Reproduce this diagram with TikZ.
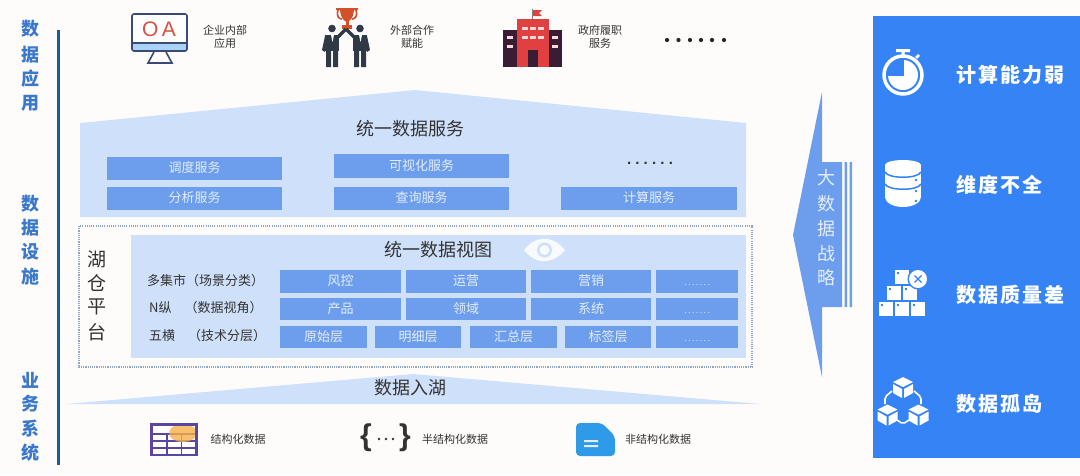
\documentclass[tikz,border=0pt]{standalone}
\usepackage{fontspec}
\setmainfont{Noto Sans CJK SC}
\newfontfamily\lat{Liberation Sans}
\usetikzlibrary{calc}
\definecolor{bgc}{HTML}{FEFCFA}
\definecolor{pale}{HTML}{CFE0FA}
\definecolor{cell}{HTML}{6D9EEE}
\definecolor{side}{HTML}{3683F5}
\definecolor{lbl}{HTML}{3A78CC}
\definecolor{ink}{HTML}{333333}
\definecolor{softw}{HTML}{E4EDFB}
\definecolor{navy}{HTML}{3B4A78}
\definecolor{strip}{HTML}{A9D3F7}
\definecolor{oared}{HTML}{D9503F}
\definecolor{troph}{HTML}{D2502A}
\definecolor{suit}{HTML}{2F3A46}
\definecolor{bdark}{HTML}{3A1D35}
\definecolor{bred}{HTML}{E0403F}
\definecolor{tabl}{HTML}{5B45A0}
\definecolor{docb}{HTML}{2F9BE8}
\definecolor{frm}{HTML}{8FA5C4}
\definecolor{spine}{HTML}{1F5A96}
\definecolor{orng}{HTML}{F5B04A}
\tikzset{
 x=1pt,y=-1pt,
 txt/.style={inner sep=0pt,text=ink,font=\fontsize{11}{13.5}\selectfont,align=center},
 head/.style={inner sep=0pt,text=ink,font=\fontsize{18}{20}\selectfont},
 cellbox/.style={fill=cell,draw=none,inner sep=0pt,text=softw,font=\fontsize{13}{14}\selectfont,anchor=north west,text height=10pt,text depth=2pt},
 rowl/.style={inner sep=0pt,text=ink,font=\fontsize{13}{14}\selectfont,anchor=west},
 sidelab/.style={inner sep=0pt,text=lbl,font=\bfseries\fontsize{18}{20}\selectfont},
 strat/.style={inner sep=0pt,text=softw,font=\fontsize{18}{20}\selectfont},
 prob/.style={inner sep=0pt,text=white,font=\bfseries\fontsize{20}{22}\selectfont},
}
\newcommand{\cbox}[6]{\node[cellbox,minimum width=#4pt-#2pt,minimum height=#5pt-#3pt] (#1) at (#2,#3) {#6};}
\newcommand{\celldots}{{\lat\fontsize{9}{10}\selectfont\addfontfeature{LetterSpace=15}.......}}
\begin{document}
\begin{tikzpicture}
\useasboundingbox (0,0) rectangle (1080,475);
\fill[bgc] (0,0) rectangle (1080,475);
% left
\draw[line width=3pt,color=spine] (58,30) -- (58,465);
\foreach \t/\y [count=\i] in {数/29,据/55,应/79,用/103,数/204,据/228,设/252,施/277,业/380,务/404,系/429,统/453}
  \node[sidelab] (s\i) at (30,\y) {\t};
% top icons: monitor
\fill[white] (131,13) rectangle (188,52);
\fill[strip] (132,43) rectangle (187,51);
\draw[line width=1.6pt,color=navy,rounded corners=2pt] (132,14) rectangle (187,51);
\draw[line width=1.6pt,color=navy] (132,43) -- (187,43) (154,52) -- (148,63) -- (172,63) -- (166,52);
\node[inner sep=0pt,text=oared,font=\lat\fontsize{21}{22}\selectfont] (oa) at (159,29) {O\,A};
\node[txt] (t1) at (225,37) {企业内部\\应用};
% people
\draw[troph,line width=1.6pt] (338,10) .. controls (336,16) and (339,19) .. (342,19) (356,10) .. controls (358,16) and (355,19) .. (352,19);
\fill[troph] (336,8) -- (358,8) -- (358,10) -- (354,10) .. controls (353,19) and (350,21) .. (347,22) .. controls (344,21) and (341,19) .. (340,10) -- (336,10) -- cycle;
\fill[troph] (345.5,21) rectangle (348.5,26);
\fill[troph] (342,25) rectangle (352,29);
\foreach \cx/\dir in {332/1,360/-1}{
 \fill[suit] (\cx,28.5) circle (3.8);
 \fill[suit] (\cx-7,35) -- (\cx+7,35) -- (\cx+7,51) -- (\cx-7,51) -- cycle;
 \fill[suit] (\cx-6,50) rectangle (\cx-1,67) (\cx+1,50) rectangle (\cx+6,67);
 \fill[suit] (\cx-\dir*7,36) -- (\cx-\dir*10,50) -- (\cx-\dir*7,52) -- (\cx-\dir*4,40) -- cycle;
 \draw[line width=3.4pt,color=suit] (\cx+\dir*5,38) -- (\cx+\dir*14,29);
}
\fill[white] (331,35) -- (334,35) -- (332.5,42) -- cycle (359,35) -- (362,35) -- (360.5,42) -- cycle;
\node[txt] (t2) at (412,37) {外部合作\\赋能};
% building
\fill[bdark] (503,30) rectangle (562,67);
\fill[bred] (517,19) rectangle (549,67);
\fill[bdark] (528,50) rectangle (538,67);
\draw[line width=1pt,color=gray] (532.5,19) -- (532.5,9);
\fill[bred] (533,10) -- (542,10) -- (539,13) -- (542,16) -- (533,16) -- cycle;
\foreach \xx in {522,530,538} \foreach \yy in {27,36} \fill[red!15] (\xx,\yy) rectangle +(6,2.6);
\foreach \xx in {507,552} \foreach \yy in {36,45} \fill[red!15] (\xx,\yy) rectangle +(6,2.6);
\node[txt] (t3) at (600,37) {政府履职\\服务};
\foreach \xx in {667,678.5,690,701,712,724} \fill[black!85] (\xx,40) circle (2.1);
% service pentagon
\fill[pale] (80,123) -- (415,90) -- (746,123) -- (746,217) -- (80,217) -- cycle;
\node[head] (svc) at (410,129) {统一数据服务};
\cbox{a1}{107}{157}{282}{180}{调度服务}
\cbox{a2}{107}{187}{282}{210}{分析服务}
\cbox{a3}{334}{154}{509}{178}{可视化服务}
\cbox{a4}{334}{187}{509}{210}{查询服务}
\cbox{a5}{561}{187}{737}{210}{计算服务}
\node[inner sep=0pt,text=ink,font=\lat\bfseries\fontsize{15}{15}\selectfont] (dots1) at (650,163) {\addfontfeature{LetterSpace=28}......};
% lake frame
\draw[line width=1.2pt,color=frm,dash pattern=on 1.1pt off 1.1pt] (79,226) rectangle (752,367);
\foreach \t/\y [count=\i] in {湖/259,仓/283,平/307,台/332}
  \node[inner sep=0pt,text=ink,font=\fontsize{19}{20}\selectfont] (h\i) at (97,\y) {\t};
\fill[pale] (131,235) rectangle (746,358);
\node[head] (view) at (438,250) {统一数据视图};
% eye
\fill[white!85!pale] (524,250) .. controls (536,235) and (552,235) .. (565,250) .. controls (552,265) and (536,265) .. (524,250) -- cycle;
\fill[pale] (544.5,250) circle (7.5);
\fill[white!85!pale] (544.5,250) circle (5);
\node[rowl] (r1) at (147,281) {多集市（场景分类）};
\node[rowl] (r2) at (149,308) {N纵\hspace{1em}（数据视角）};
\node[rowl] (r3) at (149,336) {五横\hspace{1em}（技术分层）};
\cbox{b1}{280}{270}{401}{293}{风控}
\cbox{b2}{406}{270}{526}{293}{运营}
\cbox{b3}{531}{270}{651}{293}{营销}
\cbox{b4}{656}{270}{738}{293}{\celldots}
\cbox{c1}{280}{298}{401}{320}{产品}
\cbox{c2}{406}{298}{526}{320}{领域}
\cbox{c3}{531}{298}{651}{320}{系统}
\cbox{c4}{656}{298}{738}{320}{\celldots}
\cbox{d1}{280}{326}{367}{348}{原始层}
\cbox{d2}{375}{326}{461}{348}{明细层}
\cbox{d3}{470}{326}{557}{348}{汇总层}
\cbox{d4}{565}{326}{651}{348}{标签层}
\cbox{d5}{656}{326}{738}{348}{\celldots}
% ingest
\fill[pale] (66,404) -- (413,374) -- (760,404) -- cycle;
\node[head] (ing) at (410,388) {数据入湖};
% table icon
\fill[tabl] (150,423) rectangle (198,456);
\fill[white] (153,426) rectangle (195,433);
\foreach \xx in {153,167.5,182} \foreach \yy in {435,442,449}
  \fill[white] (\xx,\yy) rectangle +(13,5);
\begin{scope}
\clip (153,426) rectangle (195,447);
\fill[orng,opacity=.8] (183,433) ellipse (14 and 9);
\end{scope}
\node[txt] (l1) at (238,439) {结构化数据};
\node[inner sep=0pt,text=ink,font=\lat\bfseries\fontsize{30}{30}\selectfont] (br1) at (366,438) {\{};
\node[inner sep=0pt,text=ink,font=\lat\bfseries\fontsize{30}{30}\selectfont] (br2) at (405,438) {\}};
\foreach \xx in {379,386,393} \fill[ink] (\xx,439) circle (1.3);
\node[txt] (l2) at (455,439) {半结构化数据};
% doc icon
\fill[docb,rounded corners=4pt] (576,423) -- (602,423) -- (615,436) -- (615,456) -- (576,456) -- cycle;
\fill[softw] (584,440) rectangle (598,442.2) (584,445) rectangle (598,447.2);
\node[txt] (l3) at (658,439) {非结构化数据};
% arrow
\fill[cell] (822,92) -- (822,162) -- (842,162) -- (842,307) -- (822,307) -- (822,377) -- (793,235) -- cycle;
\fill[cell] (844.5,162) rectangle (847,307) (849.5,162) rectangle (852,307);
\foreach \t/\y [count=\i] in {大/178,数/204,据/229,战/254,略/278}
  \node[strat] (st\i) at (826,\y) {\t};
% right panel
\fill[side] (873,16) rectangle (1080,458);
\node[prob] (p1) at (1010,75) {\addfontfeature{LetterSpace=10}计算能力弱};
\node[prob] (p2) at (999,185) {\addfontfeature{LetterSpace=10}维度不全};
\node[prob] (p3) at (1010,295) {\addfontfeature{LetterSpace=10}数据质量差};
\node[prob] (p4) at (999,404) {\addfontfeature{LetterSpace=10}数据孤岛};
% clock
\fill[white] (903,75) circle (15);
\fill[side] (886,58) rectangle (903.5,75.5);
\draw[white,line width=3.5pt] (903,75) circle (19);
\fill[white] (896,49) rectangle (910,52) (901.5,50) rectangle (904.5,56);
\draw[white,line width=2.5pt] (916,58) -- (919,55);
% db
\fill[white] (885,165) rectangle (921,197);
\fill[white] (903,165) ellipse (18 and 5);
\fill[white] (903,197) ellipse (18 and 10);
\draw[side,line width=1.5pt] (885,172) .. controls (888,179) and (918,179) .. (921,172);
\draw[side,line width=1.5pt] (885,184) .. controls (888,191) and (918,191) .. (921,184);
\foreach \yy in {180,191,201} \fill[side] (916,\yy) circle (1.3);
% boxes
\foreach \xx/\yy in {895/270,887/286,903/286,879/302,895/302,911/302}{
 \fill[white] (\xx,\yy) rectangle +(14,14);
 \fill[side] (\xx+2,\yy+2) rectangle +(2,2);
}
\fill[side] (918,279) circle (10.5);
\fill[white] (918,279) circle (9);
\draw[side,line width=1.2pt] (914.5,275.5) -- (921.5,282.5) (921.5,275.5) -- (914.5,282.5);
% cubes
\foreach \cx/\cy in {903/387.5,887.5/415,918.5/415}{
 \fill[white] (\cx,\cy-10.5) -- (\cx+10,\cy-5.5) -- (\cx,\cy-0.5) -- (\cx-10,\cy-5.5) -- cycle;
 \fill[white] (\cx-10,\cy-3.5) -- (\cx-1,\cy+1.5) -- (\cx-1,\cy+10.5) -- (\cx-10,\cy+5.5) -- cycle;
 \fill[white] (\cx+10,\cy-3.5) -- (\cx+1,\cy+1.5) -- (\cx+1,\cy+10.5) -- (\cx+10,\cy+5.5) -- cycle;
}
\draw[white,line width=1.6pt,rounded corners=2pt] (892,391) -- (885,397) -- (885,404) (914,391) -- (921,397) -- (921,404) (897,420) -- (903,424) -- (909,420);
\end{tikzpicture}
\end{document}
